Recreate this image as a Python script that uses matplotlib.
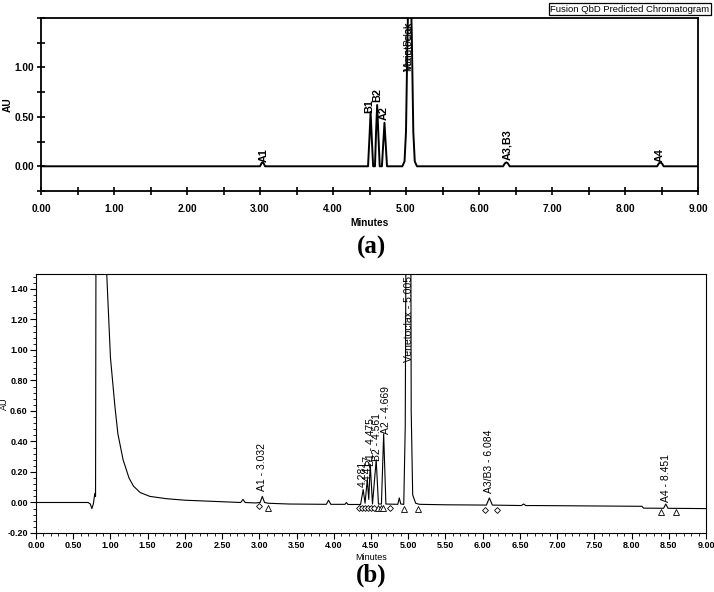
import matplotlib
matplotlib.use("Agg")
import matplotlib.pyplot as plt
from matplotlib.ticker import MultipleLocator, FormatStrFormatter

# ---------------- data: panel (a) predicted chromatogram ----------------
time_a = [0.00, 3.00, 3.02, 3.035, 3.05, 3.07,
          4.48, 4.50, 4.515, 4.53, 4.55, 4.575, 4.59, 4.605, 4.62, 4.64,
          4.67, 4.69, 4.705, 4.72, 4.74,
          4.95, 4.98, 5.00, 5.02, 5.04, 5.06, 5.08, 5.10, 5.12, 5.15,
          6.33, 6.355, 6.375, 6.395, 6.42,
          8.44, 8.465, 8.485, 8.505, 8.53, 9.00]
au_a = [0.00, 0.00, 0.03, 0.04, 0.03, 0.00,
        0.00, 0.30, 0.55, 0.30, 0.00, 0.00, 0.35, 0.62, 0.35, 0.00,
        0.00, 0.25, 0.44, 0.25, 0.00,
        0.00, 0.05, 0.35, 1.30, 2.00, 2.00, 1.30, 0.35, 0.05, 0.00,
        0.00, 0.03, 0.04, 0.03, 0.00,
        0.00, 0.03, 0.04, 0.03, 0.00, 0.00]
labels_a = ["A1", "B1", "B2", "A2", "A3,B3", "A4"]
label_x_a = [3.05, 4.50, 4.60, 4.70, 6.38, 8.48]
label_y_a = [0.045, 0.535, 0.65, 0.47, 0.06, 0.045]
main_labels_a = ["Venetoclax", "Main Peak"]
main_x_a = 5.04
main_y_a = 0.96

# ---------------- data: panel (b) experimental chromatogram ----------------
time_b = [0.00, 0.70, 0.73, 0.75, 0.77, 0.79, 0.80, 0.81, 0.93, 0.95, 1.00,
          1.06, 1.10, 1.17, 1.25, 1.31, 1.40, 1.53, 1.75, 2.00, 2.50,
          2.75, 2.78, 2.81, 2.95, 3.01, 3.04, 3.07, 3.12, 3.40,
          3.90, 3.93, 3.96, 4.15, 4.17, 4.19,
          4.36, 4.395, 4.42, 4.45, 4.47, 4.49, 4.52, 4.57, 4.60, 4.64,
          4.67, 4.70, 4.86, 4.88, 4.90, 4.94, 4.96, 4.98, 5.03, 5.04,
          5.06, 5.10, 5.15, 5.50, 6.05, 6.09, 6.13, 6.52, 6.55, 6.58,
          6.70, 8.14, 8.16, 8.43, 8.46, 8.49, 9.00]
au_b = [0.000, 0.000, -0.010, -0.040, -0.010, 0.060, 0.040, 3.000, 3.000, 1.500, 0.950,
        0.630, 0.450, 0.280, 0.160, 0.107, 0.065, 0.040, 0.025, 0.015, 0.005,
        0.000, 0.020, 0.000, -0.003, 0.000, 0.040, 0.000, -0.005, -0.010,
        -0.012, 0.015, -0.012, -0.012, 0.000, -0.013,
        -0.013, 0.085, -0.005, 0.150, 0.020, 0.250, -0.010, 0.280, -0.010, -0.010,
        0.450, -0.010, -0.012, 0.030, -0.010, -0.012, 0.500, 3.000, 3.000, 0.600,
        0.050, -0.005, -0.012, -0.015, -0.017, 0.030, -0.017, -0.020, -0.010, -0.020,
        -0.020, -0.025, -0.037, -0.038, -0.010, -0.038, -0.040]
labels_b = ["A1 - 3.032", "4.281", "4.417", "B1 - 4.475", "B2 - 4.561",
            "A2 - 4.669", "Venetoclax - 5.005", "A3/B3 - 6.084", "A4 - 8.451"]
label_x_b = [3.04, 4.39, 4.45, 4.50, 4.58, 4.70, 5.01, 6.09, 8.46]
label_y_b = [0.075, 0.10, 0.14, 0.24, 0.27, 0.45, 0.92, 0.065, 0.00]
diamond_x = [2.99, 4.34, 4.38, 4.42, 4.46, 4.50, 4.54, 4.76, 6.03, 6.19]
diamond_y = [-0.025, -0.035, -0.035, -0.035, -0.035, -0.035, -0.035, -0.035, -0.050, -0.050]
triangle_x = [3.11, 4.60, 4.63, 4.66, 4.94, 5.13, 8.39, 8.60]
triangle_y = [-0.035, -0.037, -0.037, -0.037, -0.040, -0.040, -0.065, -0.065]

NARROW = ["Liberation Sans Narrow", "DejaVu Sans Condensed", "Liberation Sans"]
SANS = ["Liberation Sans", "DejaVu Sans"]
NSIZE = 7.3

W, H = 714, 592
fig = plt.figure(figsize=(W / 100, H / 100), dpi=100)

# ---------------- panel (a) ----------------
axa = fig.add_axes([41 / W, 1 - 191 / H, (698 - 41) / W, (191 - 18) / H])
axa.plot(time_a, au_a, color="black", lw=1.4)
axa.set_xlim(0, 9)
axa.set_ylim(-0.25, 1.5)
axa.xaxis.set_major_locator(MultipleLocator(1))
axa.xaxis.set_minor_locator(MultipleLocator(0.5))
axa.yaxis.set_major_locator(MultipleLocator(0.5))
axa.yaxis.set_minor_locator(MultipleLocator(0.25))
axa.xaxis.set_major_formatter(FormatStrFormatter("%.2f"))
axa.yaxis.set_major_formatter(FormatStrFormatter("%.2f"))
axa.set_yticks([0.0, 0.5, 1.0])
axa.tick_params(which="both", direction="inout", width=1.2, length=6, pad=2)
axa.tick_params(axis="x", which="both", pad=6)
for lab in axa.get_xticklabels() + axa.get_yticklabels():
    lab.set_fontfamily(NARROW)
    lab.set_fontsize(NSIZE)
    lab.set_fontweight("bold")
for sp in axa.spines.values():
    sp.set_linewidth(1.3)
axa.set_xlabel("Minutes", fontfamily=NARROW, fontsize=NSIZE, fontweight="bold", labelpad=3)
axa.set_ylabel("AU", fontfamily=NARROW, fontsize=NSIZE, fontweight="bold")
axa.yaxis.set_label_coords(-0.043, 0.5)
for t, x, y in zip(labels_a, label_x_a, label_y_a):
    axa.text(x, y, t, rotation=90, ha="center", va="bottom",
             fontfamily=NARROW, fontsize=NSIZE + 0.5, fontweight="bold")
for t in main_labels_a:
    axa.text(main_x_a, main_y_a, t, rotation=90, ha="center", va="bottom",
             fontfamily=NARROW, fontsize=NSIZE, clip_on=True)
fig.text((552 + 708) / 2 / W, 1 - 9 / H, "Fusion QbD Predicted Chromatogram",
         ha="center", va="center", fontfamily=NARROW, fontsize=6.8,
         bbox=dict(boxstyle="square,pad=0.15", fc="white", ec="black", lw=0.9))
fig.text(372 / W, 1 - 247 / H, "(a)", ha="center", va="center",
         fontfamily=["Liberation Serif", "DejaVu Serif"], fontsize=18, fontweight="bold")

# ---------------- panel (b) ----------------
axb = fig.add_axes([36 / W, 1 - 533 / H, (706 - 36) / W, (533 - 273.7) / H])
axb.plot(time_b, au_b, color="black", lw=0.8)
axb.plot(diamond_x, diamond_y, linestyle="none", marker="D", ms=3,
         mfc="white", mec="black", mew=0.6)
axb.plot(triangle_x, triangle_y, linestyle="none", marker="^", ms=4.5,
         mfc="white", mec="black", mew=0.6)
axb.set_xlim(0, 9)
axb.set_ylim(-0.2, 1.5)
axb.xaxis.set_major_locator(MultipleLocator(0.5))
axb.xaxis.set_minor_locator(MultipleLocator(0.1))
axb.yaxis.set_major_locator(MultipleLocator(0.2))
axb.yaxis.set_minor_locator(MultipleLocator(0.04))
axb.xaxis.set_major_formatter(FormatStrFormatter("%.2f"))
axb.yaxis.set_major_formatter(FormatStrFormatter("%.2f"))
axb.tick_params(which="major", direction="out", length=4, width=0.8, pad=2)
axb.tick_params(which="minor", direction="out", length=2, width=0.6)
for lab in axb.get_xticklabels() + axb.get_yticklabels():
    lab.set_fontfamily(SANS)
    lab.set_fontsize(6.5)
    lab.set_fontweight("bold")
for sp in axb.spines.values():
    sp.set_linewidth(0.8)
axb.set_xlabel("Minutes", fontfamily=SANS, fontsize=6.5, labelpad=2)
axb.set_ylabel("AU", fontfamily=SANS, fontsize=6.5)
axb.yaxis.set_label_coords(-0.041, 0.5)
for t, x, y in zip(labels_b, label_x_b, label_y_b):
    axb.text(x, y, t, rotation=90, ha="center", va="bottom",
             fontfamily=SANS, fontsize=7.5, clip_on=True)
fig.text(371 / W, 1 - 575 / H, "(b)", ha="center", va="center",
         fontfamily=["Liberation Serif", "DejaVu Serif"], fontsize=18, fontweight="bold")

fig.savefig("out.png", dpi=100)
